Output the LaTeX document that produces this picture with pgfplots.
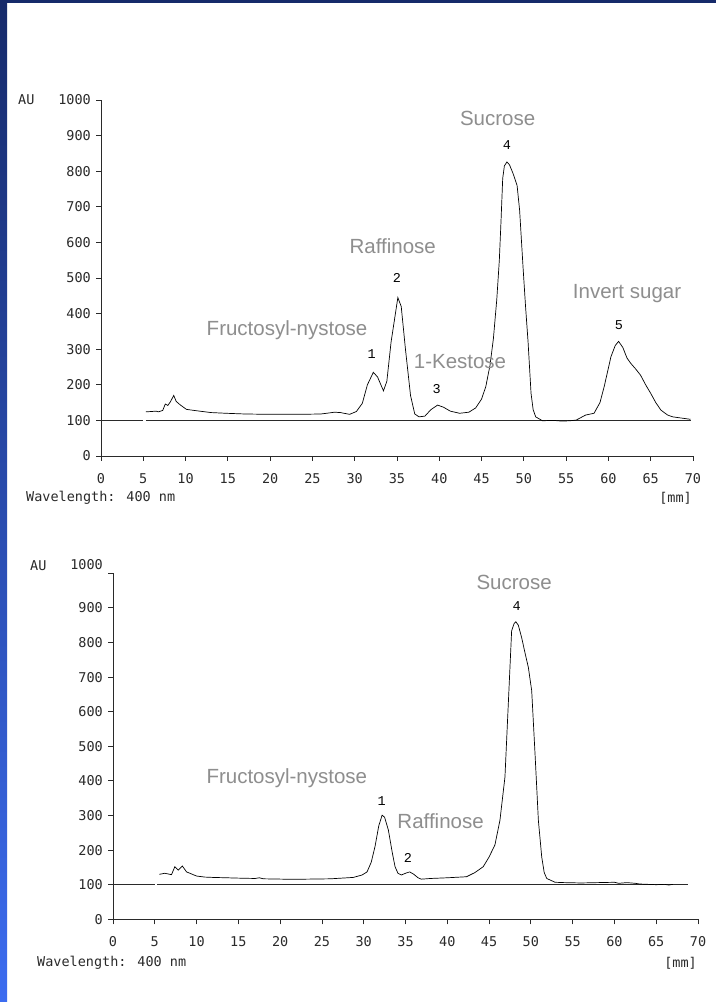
\documentclass[border=0pt]{standalone}
\usepackage{fontspec}
\setmainfont{Liberation Sans}
\newfontfamily\tickfont{DejaVu Sans Mono}
\newfontfamily\peakfont{Liberation Mono}
\usepackage{pgfplots}
\pgfplotsset{compat=1.18}

\definecolor{navy}{HTML}{162A6A}
\definecolor{stripbot}{HTML}{3C6CF0}
\definecolor{labelgray}{HTML}{8E8E8E}
\definecolor{ink}{HTML}{2A2A2A}

\pgfplotsset{
  chrom/.style={
    scale only axis, anchor=south west, clip=false,
    xmin=0, xmax=70, ymin=0, ymax=1000,
    axis lines*=left,
    axis line style={ink, line width=0.8pt},
    tick align=outside, major tick length=5pt,
    tick style={ink, line width=0.8pt},
    xtick={0,5,...,70},
    /pgf/number format/assume math mode=true,
    /pgf/number format/1000 sep={},
    ticklabel style={font=\tickfont\fontsize{13.5}{13.5}\selectfont, text=ink},
    yticklabel style={inner sep=0pt, xshift=-5pt},
    xticklabel style={inner sep=0pt, yshift=-12pt},
  },
  trace/.style={black, line width=0.7pt, mark=none},
  base/.style={ink, line width=0.8pt, mark=none},
}
\tikzset{
  cpd/.style={font=\fontsize{20.5}{20.5}\selectfont, text=labelgray},
  pk/.style={font=\peakfont\fontsize{13.5}{13.5}\selectfont, text=black},
}

\begin{document}
\begin{tikzpicture}
\path[use as bounding box] (0,0) rectangle (716pt,1002pt);
\fill[white] (0,0) rectangle (716pt,1002pt);
\shade[top color=navy, bottom color=stripbot] (0,0) rectangle (7pt,1002pt);
\fill[navy] (0,999pt) rectangle (716pt,1002pt);

% ---------- upper chromatogram ----------
\begin{axis}[chrom, at={(101pt,546pt)}, width=592pt, height=356pt,
  ytick={0,100,...,1000}]
\addplot[base] coordinates {(0,100) (5.0,100)};
\addplot[base] coordinates {(5.3,100) (69.8,100)};
\addplot[trace] table {
x y
5.3 124
6.0 125
6.5 126
6.8 124
7.3 128
7.6 146
7.9 142
8.2 152
8.6 170
8.9 153
9.4 143
10.1 131
11 128
12 125
13 122
14.8 120
17 118
20 117
23.5 117
26 118
27 121
27.6 123
28.3 122
29.4 117
30.2 125
30.9 148
31.5 200
32.2 235
32.7 222
33.4 183
33.8 210
34.3 320
35.1 445
35.5 420
36.0 300
36.6 170
37.1 118
37.6 110
38.3 112
39.0 130
39.8 143
40.5 137
41.3 126
42.4 120
43.5 123
44.3 135
45.0 160
45.5 195
46.0 255
46.4 330
46.8 440
47.1 550
47.3 660
47.5 780
47.7 815
48.0 826
48.3 818
48.7 795
49.2 760
49.5 690
49.9 532
50.2 420
50.5 320
50.85 176
51.1 130
51.4 110
52.2 99
53.5 100
54.5 98
55.5 99
56.2 101
57.3 115
58.3 120
59.0 150
59.5 195
60.3 279
60.8 310
61.2 322
61.7 305
62.2 275
62.65 260
63.2 245
63.8 227
64.4 200
65.0 176
65.6 150
66.2 129
67.0 115
67.6 110
68.5 107
69.7 103
};
\node[cpd] at (46.9,949) {Sucrose};
\node[pk]  at (48.0,874) {4};
\node[cpd] at (34.5,590) {Raffinose};
\node[pk]  at (35.0,500) {2};
\node[cpd] at (22.0,354) {Fructosyl-nystose};
\node[pk]  at (32.0,287) {1};
\node[cpd] at (42.45,264) {1-Kestose};
\node[pk]  at (39.7,188) {3};
\node[cpd] at (62.2,455) {Invert sugar};
\node[pk]  at (61.25,368) {5};
\end{axis}

% ---------- lower chromatogram ----------
\begin{axis}[chrom, at={(113pt,82.7pt)}, width=585pt, height=346pt,
  ytick={0,100,...,900}, extra y ticks={1000},
  extra y tick style={yticklabel style={yshift=9pt}}]
\addplot[base] coordinates {(0,100) (5.0,100)};
\addplot[base] coordinates {(5.3,100) (68.8,100)};
\addplot[trace] table {
x y
5.55 130
6.2 133
7.0 129
7.4 152
7.8 142
8.3 154
8.8 137
9.3 132
10.0 125
11.0 122
12.0 121
13.6 120
15 119
17 118
17.5 120
18 117
20.4 116
23 116
26 117
28.75 121
29.8 128
30.4 137
30.9 165
31.35 210
31.8 270
32.2 301
32.5 295
32.95 258
33.4 195
33.75 152
34.1 133
34.5 128
35.0 133
35.5 137
36.0 130
36.5 120
36.9 116
38 118
40 120
42.3 123
43.3 135
44.3 152
45.0 180
45.7 215
46.3 286
46.9 411
47.3 622
47.7 834
48.0 855
48.2 860
48.5 850
48.9 814
49.3 770
49.7 728
50.1 661
50.5 478
50.9 286
51.3 180
51.6 135
51.9 118
52.9 107
54 106
56 105
58 106
60 107
60.5 104
61.5 106
62.5 104
63 102
64 101
65 100
66 101
66.5 99
67 101
};
\node[cpd] at (48.0,974) {Sucrose};
\node[pk]  at (48.3,906) {4};
\node[cpd] at (20.8,407.5) {Fructosyl-nystose};
\node[pk]  at (32.15,343) {1};
\node[cpd] at (39.2,284) {Raffinose};
\node[pk]  at (35.3,178) {2};
\end{axis}

% axis captions
\begin{scope}[every node/.style={font=\tickfont\fontsize{13.5}{13.5}\selectfont, text=ink, inner sep=0pt}]
\node[anchor=west] at (18pt,902pt) {AU};
\node[anchor=west] at (26pt,504pt) {Wavelength: 400 nm};
\node[anchor=east] at (692pt,504pt) {[mm]};
\node[anchor=west] at (30pt,436pt) {AU};
\node[anchor=west] at (37pt,39pt) {Wavelength: 400 nm};
\node[anchor=east] at (697pt,39pt) {[mm]};
\end{scope}
\end{tikzpicture}
\end{document}
